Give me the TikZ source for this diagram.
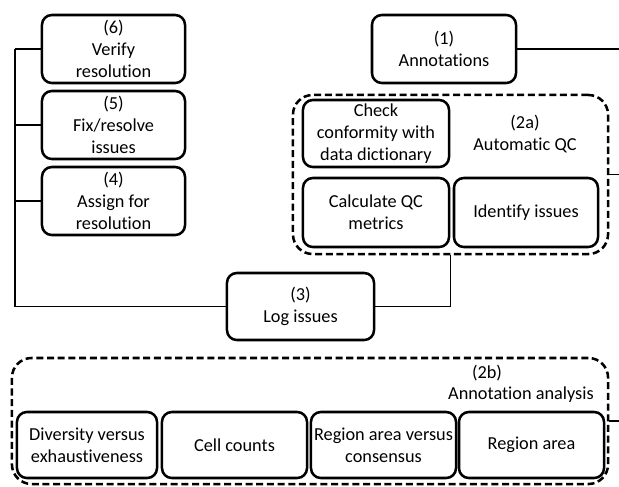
\documentclass[tikz,border=0pt]{standalone}
\usepackage{fontspec}
\setmainfont{Carlito}[Ligatures=NoCommon]
\usepackage{tikz}
\usetikzlibrary{positioning,calc}
\tikzset{
  box/.style={draw=black, line width=1.8pt, rounded corners=7pt, align=center, inner sep=0.5pt, font=\fontsize{13}{15.6}\selectfont},
  grp/.style={draw=black, line width=1.8pt, dash pattern=on 5pt off 2.6pt, rounded corners=14pt, inner sep=0pt},
  link/.style={draw=black, line width=0.8pt},
  lbl/.style={align=center, inner sep=0pt, font=\fontsize{13}{15.6}\selectfont}
}
\begin{document}
\begin{tikzpicture}[x=0.025cm, y=-0.025cm]
    \useasboundingbox (0,0) rectangle (619,487);
    % left column
    \node[box, minimum width=3.575cm, minimum height=1.7cm] (verify) at (113.5,49) {(6)\\ Verify\\ resolution};
    \node[box, minimum width=3.575cm, minimum height=1.7cm] (fix) at (113.5,125) {(5)\\ Fix/resolve\\ issues};
    \node[box, minimum width=3.575cm, minimum height=1.7cm] (assign) at (113.5,201) {(4)\\ Assign for\\ resolution};
    % annotations and automatic QC
    \node[box, minimum width=3.6cm, minimum height=1.7cm] (annot) at (444,49) {(1)\\ Annotations};
    \node[grp, minimum width=7.875cm, minimum height=3.975cm] (autoqc) at (450.5,174.5) {};
    \node[box, minimum width=3.65cm, minimum height=1.675cm] (check) at (376,133.5) {Check\\ conformity with\\ data dictionary};
    \node[lbl] (autolbl) at (525,134) {(2a)\\ Automatic QC};
    \node[box, minimum width=3.65cm, minimum height=1.725cm] (metrics) at (376,212.5) {Calculate QC\\ metrics};
    \node[box, minimum width=3.6cm, minimum height=1.725cm] (identify) at (526,212.5) {Identify issues};
    % log
    \node[box, minimum width=3.675cm, minimum height=1.675cm] (log) at (300.5,306.5) {(3)\\ Log issues};
    % annotation analysis
    \node[grp, minimum width=14.9cm, minimum height=3.15cm] (analysis) at (310,421) {};
    \node[lbl] (anlbl) at (487,373) {(2b)};
    \node[lbl, anchor=east] (anname) at (594,395) {Annotation analysis};
    \node[box, minimum width=3.5cm, minimum height=1.65cm] (diversity) at (87,445) {Diversity versus\\ exhaustiveness};
    \node[box, minimum width=3.625cm, minimum height=1.65cm] (cells) at (234.5,445) {Cell counts};
    \node[box, minimum width=3.625cm, minimum height=1.65cm] (consensus) at (383.5,445) {Region area versus\\ consensus};
    \node[box, minimum width=3.625cm, minimum height=1.65cm] (area) at (531.5,445) {Region area};
    % connectors
    \coordinate (spine) at (15,49);
    \coordinate (out1) at (619,49);
    \coordinate (out2) at (619,174.5);
    \coordinate (out3) at (619,421);
    \draw[link] (verify.west) -- (spine);
    \draw[link] (fix.west) -- (fix.west -| spine);
    \draw[link] (assign.west) -- (assign.west -| spine);
    \draw[link] (log.west) -| (spine);
    \draw[link] (log.east) -| (autoqc.south);
    \draw[link] (annot.east) -- (out1);
    \draw[link] (autoqc.east) -- (out2);
    \draw[link] (analysis.east) -- (out3);
\end{tikzpicture}
\end{document}
